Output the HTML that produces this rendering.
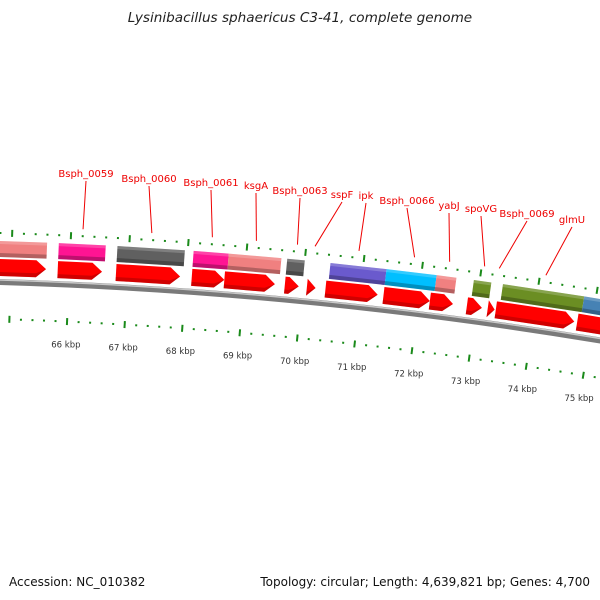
<!DOCTYPE html>
<html><head><meta charset="utf-8"><style>
body{margin:0;background:#fff;width:600px;height:600px;overflow:hidden}
svg{display:block;font-family:"DejaVu Sans","Liberation Sans",sans-serif}
</style></head><body>
<svg id="map" width="600" height="600" viewBox="0 0 600 600">
<text x="300" y="22" text-anchor="middle" font-size="13.6" font-style="italic" fill="#222">Lysinibacillus sphaericus C3-41, complete genome</text>
<text x="9" y="586" font-size="12" fill="#111">Accession: NC_010382</text>
<text x="590" y="586" text-anchor="end" font-size="12" fill="#111">Topology: circular; Length: 4,639,821 bp; Genes: 4,700</text>
<g id="g"></g>
</svg>
<script>
// data
const featStart=[64.7,65.8,66.8,68.1,68.7,69.7,70.44,71.4,72.26,72.9,73.4,74.8];
const featEnd  =[65.6,66.6,67.95,68.7,69.6,70.0,71.4,72.26,72.6,73.2,74.8,75.5];
const featColor=['#f08080','#ff1493','#606060','#ff1493','#f08080','#606060','#6a5acd','#00bfff','#f08080','#6b8e23','#6b8e23','#4682b4'];
const cdsStart=[64.7,65.8,66.8,68.1,68.66,69.7,70.08,70.4,71.4,72.2,72.84,73.2,73.34,74.75];
const cdsEnd  =[65.6,66.56,67.9,68.66,69.53,69.94,70.23,71.3,72.2,72.6,73.1,73.32,74.7,75.5];
const labelText=['Bsph_0059','Bsph_0060','Bsph_0061','ksgA','Bsph_0063','sspF','ipk','Bsph_0066','yabJ','spoVG','Bsph_0069','glmU'];
const labelGeneKbp=[66.2,67.37,68.4,69.15,69.85,70.15,70.9,71.85,72.45,73.05,73.3,74.1];
const labelX=[86,149,211,256,300,342,366,407,449,481,527,572];
const labelY=[177,182,186,189,194,198,199,204,209,212,217,223];
const tickMajor=[64,65,66,67,68,69,70,71,72,73,74,75,76];
const tickLabelFrom=66;

const NS='http://www.w3.org/2000/svg';
const G=document.getElementById('g');
const CX=-135,CY=4776,RB=4497;
function th(k){return 0.04533+(k-66)*0.01294;}
function P(k,d){const t=th(k),r=RB+d;return [CX+r*Math.sin(t),CY-r*Math.cos(t)];}
function mk(tag,attrs,name){const e=document.createElementNS(NS,tag);for(const a in attrs)e.setAttribute(a,attrs[a]);


G.appendChild(e);return e;}
function poly(pts){return pts.map(p=>p[0].toFixed(2)+','+p[1].toFixed(2)).join(' ');}
function arcPath(k1,k2,d){const a=P(k1,d),b=P(k2,d);return `M${a[0]},${a[1]} A${RB+d},${RB+d} 0 0 1 ${b[0]},${b[1]}`;}

// backbone
mk('path',{d:arcPath(62,78,-1),stroke:'#7a7a7a','stroke-width':6,fill:'none'},'backbone');
mk('path',{d:arcPath(62,78,1),stroke:'#c8c8c8','stroke-width':1.5,fill:'none'},'backbone-highlight');

// ticks
for(let i=0;i<tickMajor.length-1;i++){
  for(let j=0;j<5;j++){
    const k=tickMajor[i]+j*0.2;
    const major=j===0;
    [[48,'outer'],[-38,'inner']].forEach(([d,w])=>{
      const h=major?3.5:1;
      const a=P(k,d-h),b=P(k,d+h);
      mk('line',{x1:a[0],y1:a[1],x2:b[0],y2:b[1],stroke:'#1a8a1a','stroke-width':2},w+'-tick');
    });
  }
  if(tickMajor[i]>=tickLabelFrom){
    const lp=P(tickMajor[i],-64);
    const t=mk('text',{x:lp[0],y:lp[1],'text-anchor':'middle','font-size':8.5,fill:'#333'},'tick-label');
    t.textContent=tickMajor[i]+' kbp';
  }
}

// features (top row)
for(let i=0;i<featStart.length;i++){
  const s=featStart[i],e=featEnd[i];
  mk('polygon',{points:poly([P(s,24),P(s,40),P(e,40),P(e,24)]),fill:featColor[i]},'gene-feature');
  mk('polygon',{points:poly([P(s,24),P(s,28),P(e,28),P(e,24)]),fill:'rgba(0,0,0,0.25)'},'gene-feature-shade');
  mk('polygon',{points:poly([P(s,37),P(s,40),P(e,40),P(e,37)]),fill:'rgba(255,255,255,0.2)'},'gene-feature-highlight');
}
// cds arrows
for(let i=0;i<cdsStart.length;i++){
  const s=cdsStart[i],e=cdsEnd[i];
  const hl=Math.min(0.17,(e-s));
  const b=e-hl;
  const pts=[P(s,5),P(s,22),P(b,22),P(e,13.5),P(b,5)];
  mk('polygon',{points:poly(pts),fill:'#ff0000'},'cds-arrow');
  mk('polygon',{points:poly([P(s,5),P(s,9),P(b,9),P(e,13.5),P(b,5)]),fill:'rgba(120,0,0,0.35)'},'cds-arrow-shade');
}
// labels
for(let i=0;i<labelText.length;i++){
  const t=mk('text',{x:labelX[i],y:labelY[i],'text-anchor':'middle','font-size':10,fill:'#ee0000'},'gene-label');
  t.textContent=labelText[i];
  const p=P(labelGeneKbp[i],55);
  mk('line',{x1:labelX[i],y1:labelY[i]+4,x2:p[0],y2:p[1],stroke:'#ee0000','stroke-width':1},'gene-label-line');
}
</script>
</body></html>
